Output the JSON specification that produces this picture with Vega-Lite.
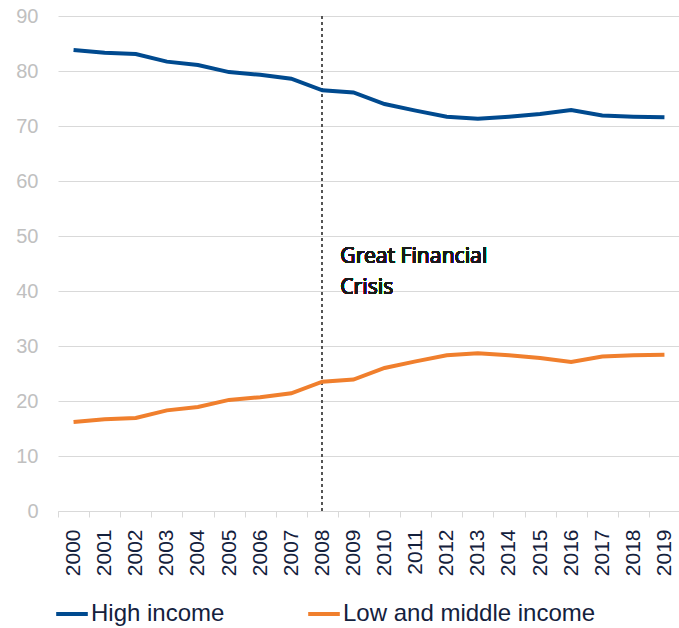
{
  "$schema": "https://vega.github.io/schema/vega-lite/v6.json",
  "autosize": {"type": "none"},
  "width": 622,
  "height": 495,
  "padding": {"left": 58, "top": 16, "right": 0, "bottom": 117},
  "background": "white",
  "config": {
    "view": {"stroke": null},
    "font": "Liberation Sans"
  },
  "data": {
    "values": [
      {"year": "2000", "series": "High income", "value": 83.8},
      {"year": "2001", "series": "High income", "value": 83.3},
      {"year": "2002", "series": "High income", "value": 83.1},
      {"year": "2003", "series": "High income", "value": 81.7},
      {"year": "2004", "series": "High income", "value": 81.1},
      {"year": "2005", "series": "High income", "value": 79.8},
      {"year": "2006", "series": "High income", "value": 79.3},
      {"year": "2007", "series": "High income", "value": 78.6},
      {"year": "2008", "series": "High income", "value": 76.5},
      {"year": "2009", "series": "High income", "value": 76.1},
      {"year": "2010", "series": "High income", "value": 74.0},
      {"year": "2011", "series": "High income", "value": 72.8},
      {"year": "2012", "series": "High income", "value": 71.7},
      {"year": "2013", "series": "High income", "value": 71.3},
      {"year": "2014", "series": "High income", "value": 71.7},
      {"year": "2015", "series": "High income", "value": 72.2},
      {"year": "2016", "series": "High income", "value": 72.9},
      {"year": "2017", "series": "High income", "value": 71.9},
      {"year": "2018", "series": "High income", "value": 71.7},
      {"year": "2019", "series": "High income", "value": 71.6},
      {"year": "2000", "series": "Low and middle income", "value": 16.2},
      {"year": "2001", "series": "Low and middle income", "value": 16.7},
      {"year": "2002", "series": "Low and middle income", "value": 16.9},
      {"year": "2003", "series": "Low and middle income", "value": 18.3},
      {"year": "2004", "series": "Low and middle income", "value": 18.9},
      {"year": "2005", "series": "Low and middle income", "value": 20.2},
      {"year": "2006", "series": "Low and middle income", "value": 20.7},
      {"year": "2007", "series": "Low and middle income", "value": 21.4},
      {"year": "2008", "series": "Low and middle income", "value": 23.5},
      {"year": "2009", "series": "Low and middle income", "value": 23.9},
      {"year": "2010", "series": "Low and middle income", "value": 26.0},
      {"year": "2011", "series": "Low and middle income", "value": 27.2},
      {"year": "2012", "series": "Low and middle income", "value": 28.3},
      {"year": "2013", "series": "Low and middle income", "value": 28.7},
      {"year": "2014", "series": "Low and middle income", "value": 28.3},
      {"year": "2015", "series": "Low and middle income", "value": 27.8},
      {"year": "2016", "series": "Low and middle income", "value": 27.1},
      {"year": "2017", "series": "Low and middle income", "value": 28.1},
      {"year": "2018", "series": "Low and middle income", "value": 28.3},
      {"year": "2019", "series": "Low and middle income", "value": 28.4}
    ]
  },
  "encoding": {
    "x": {
      "field": "year",
      "type": "ordinal",
      "scale": {"type": "band", "paddingInner": 0, "paddingOuter": 0},
      "axis": {
        "title": null,
        "labelAngle": -90,
        "labelAlign": "right",
        "labelBaseline": "middle",
        "labelFontSize": 21,
        "labelColor": "#14213d",
        "labelPadding": 12,
        "tickBand": "extent",
        "tickColor": "#d9d9d9",
        "tickSize": 6,
        "domainColor": "#d9d9d9",
        "grid": false
      }
    },
    "y": {
      "field": "value",
      "type": "quantitative",
      "scale": {"domain": [0, 90], "nice": false},
      "axis": {
        "title": null,
        "values": [0, 10, 20, 30, 40, 50, 60, 70, 80, 90],
        "labelFontSize": 20,
        "labelColor": "#c0c0c0",
        "labelPadding": 20,
        "ticks": false,
        "domain": false,
        "gridColor": "#d9d9d9",
        "gridWidth": 1
      }
    }
  },
  "layer": [
    {
      "mark": {"type": "rule", "strokeDash": [3, 3], "color": "#555555", "strokeWidth": 1.2},
      "encoding": {
        "x": {"datum": "2008"},
        "y": {"datum": 90},
        "y2": {"datum": 0}
      }
    },
    {
      "mark": {"type": "line", "strokeWidth": 4, "interpolate": "linear"},
      "encoding": {
        "color": {
          "field": "series",
          "type": "nominal",
          "scale": {"domain": ["High income", "Low and middle income"], "range": ["#004a8f", "#f07f2d"]},
          "legend": {
            "title": null,
            "orient": "none",
            "direction": "horizontal",
            "legendX": -4,
            "legendY": 580,
            "symbolType": "stroke",
            "symbolStrokeWidth": 4,
            "symbolSize": 1000,
            "labelFontSize": 24,
            "labelLimit": 0,
            "labelColor": "#14213d",
            "labelOffset": 1,
            "columnPadding": 75
          }
        }
      }
    },
    {
      "mark": {"type": "text", "align": "left", "baseline": "alphabetic", "dx": 18, "fontSize": 21, "font": "Noto Sans", "fontWeight": "normal", "color": "#1a1a1a", "lineHeight": 31},
      "encoding": {
        "x": {"datum": "2008"},
        "y": {"datum": 45.1},
        "text": {"value": ["Great Financial", "Crisis"]}
      }
    }
  ]
}
